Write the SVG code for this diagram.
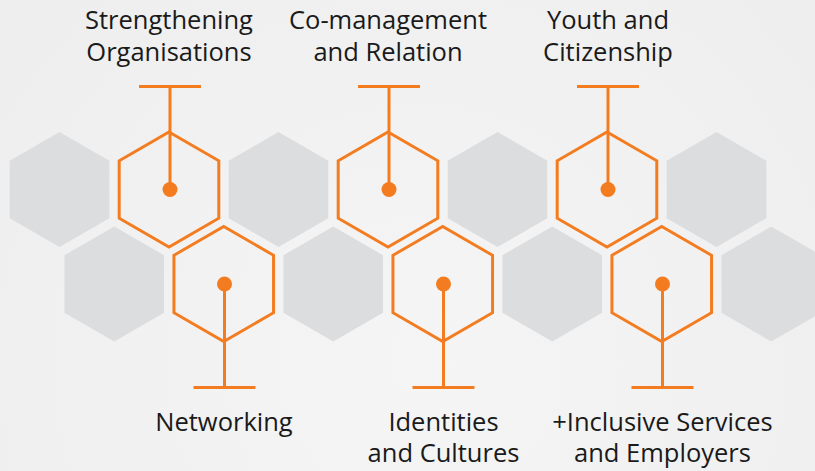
<svg xmlns="http://www.w3.org/2000/svg" xmlns:xlink="http://www.w3.org/1999/xlink" width="815" height="471" viewBox="0 0 815 471">
<style>
.bg-hex{fill:#dcdddf;stroke:none}
.or-hex{fill:none;stroke:#f47c20;stroke-width:3;stroke-linejoin:miter}
.ln{stroke:#f47c20;stroke-width:3;fill:none}
.dot{fill:#f47c20}
.lbl{font-family:"Open Sans","Noto Sans","Liberation Sans",sans-serif;font-size:25.5px;fill:#1a1a1a;text-anchor:middle}
</style>
<defs>
<radialGradient id="bgGrad" cx="420" cy="360" r="520" gradientUnits="userSpaceOnUse">
<stop offset="0" stop-color="#f5f5f5"/>
<stop offset="1" stop-color="#eeeeee"/>
</radialGradient>
<polygon id="hex" points="0,-57.5 49.8,-28.75 49.8,28.75 0,57.5 -49.8,28.75 -49.8,-28.75"/>
</defs>
<rect x="0" y="0" width="815" height="471" fill="url(#bgGrad)"/>
<g id="background-hexagons">
<use href="#hex" class="bg-hex" x="59.5" y="189.5"/>
<use href="#hex" class="bg-hex" x="278.5" y="189.5"/>
<use href="#hex" class="bg-hex" x="497.5" y="189.5"/>
<use href="#hex" class="bg-hex" x="716.5" y="189.5"/>
<use href="#hex" class="bg-hex" x="114.25" y="284"/>
<use href="#hex" class="bg-hex" x="333.25" y="284"/>
<use href="#hex" class="bg-hex" x="552.25" y="284"/>
<use href="#hex" class="bg-hex" x="771.25" y="284"/>
</g>
<g id="connectors">
<line class="ln" x1="139" y1="86.5" x2="201" y2="86.5"/>
<line class="ln" x1="170" y1="86.5" x2="170" y2="189.5"/>
<line class="ln" x1="358" y1="86.5" x2="420" y2="86.5"/>
<line class="ln" x1="389" y1="86.5" x2="389" y2="189.5"/>
<line class="ln" x1="577" y1="86.5" x2="639" y2="86.5"/>
<line class="ln" x1="608" y1="86.5" x2="608" y2="189.5"/>
<line class="ln" x1="193.5" y1="387.5" x2="255.5" y2="387.5"/>
<line class="ln" x1="224.5" y1="284" x2="224.5" y2="387.5"/>
<line class="ln" x1="412.5" y1="387.5" x2="474.5" y2="387.5"/>
<line class="ln" x1="443.5" y1="284" x2="443.5" y2="387.5"/>
<line class="ln" x1="631.5" y1="387.5" x2="693.5" y2="387.5"/>
<line class="ln" x1="662.5" y1="284" x2="662.5" y2="387.5"/>
</g>
<g id="node-strengthening">
<use href="#hex" class="or-hex" x="169" y="189.5"/>
<circle class="dot" cx="170" cy="189.5" r="7.5"/>
<text class="lbl" x="169" y="29">Strengthening</text>
<text class="lbl" x="169" y="61">Organisations</text>
</g>
<g id="node-comanagement">
<use href="#hex" class="or-hex" x="388" y="189.5"/>
<circle class="dot" cx="389" cy="189.5" r="7.5"/>
<text class="lbl" x="388" y="29">Co-management</text>
<text class="lbl" x="388" y="61">and Relation</text>
</g>
<g id="node-youth">
<use href="#hex" class="or-hex" x="607" y="189.5"/>
<circle class="dot" cx="608" cy="189.5" r="7.5"/>
<text class="lbl" x="608" y="29">Youth and</text>
<text class="lbl" x="608" y="61">Citizenship</text>
</g>
<g id="node-networking">
<use href="#hex" class="or-hex" x="223.75" y="284"/>
<circle class="dot" cx="224.5" cy="284" r="7.5"/>
<text class="lbl" x="224" y="431">Networking</text>
</g>
<g id="node-identities">
<use href="#hex" class="or-hex" x="442.75" y="284"/>
<circle class="dot" cx="443.5" cy="284" r="7.5"/>
<text class="lbl" x="443.5" y="431">Identities</text>
<text class="lbl" x="443.5" y="462">and Cultures</text>
</g>
<g id="node-inclusive">
<use href="#hex" class="or-hex" x="661.75" y="284"/>
<circle class="dot" cx="662.5" cy="284" r="7.5"/>
<text class="lbl" x="662.5" y="431">+Inclusive Services</text>
<text class="lbl" x="662.5" y="462">and Employers</text>
</g>
</svg>
